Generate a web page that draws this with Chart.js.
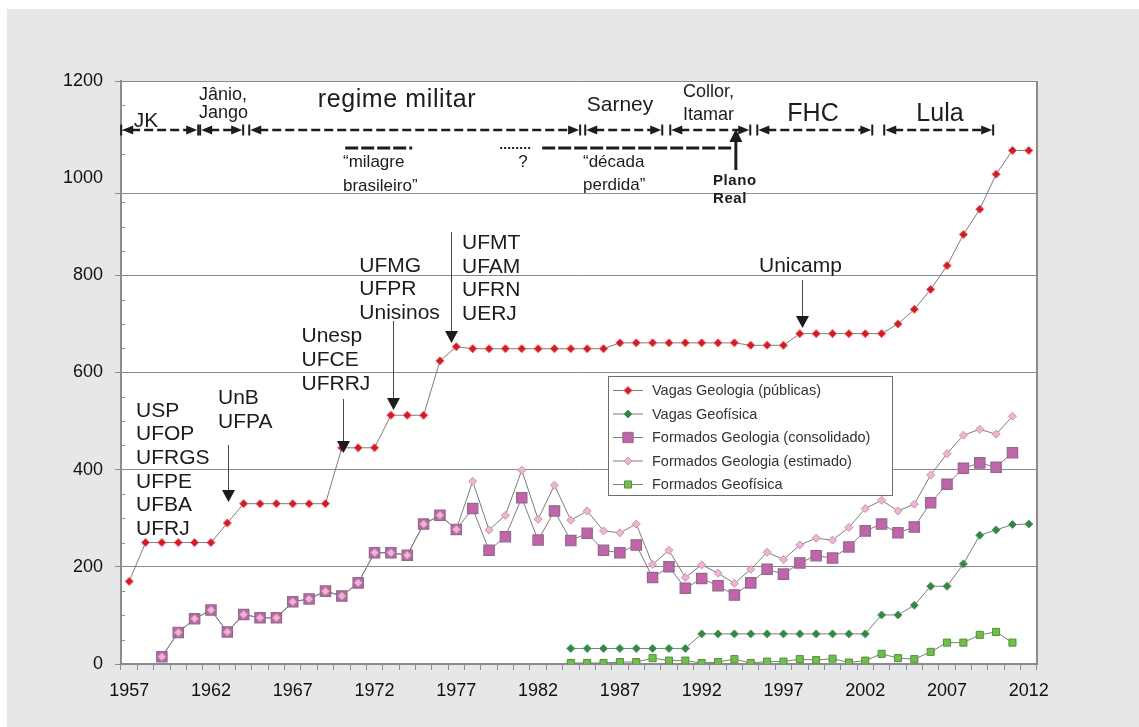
<!DOCTYPE html>
<html lang="pt-BR">
<head>
<meta charset="utf-8">
<title>Vagas e formados em Geologia e Geofísica</title>
<script src="https://cdn.jsdelivr.net/npm/chart.js@4.4.1/dist/chart.umd.min.js"></script>
<style>
  html, body { margin: 0; padding: 0; background: #fff; }
  #wrap { position: relative; width: 1139px; height: 727px; }
</style>
</head>
<body>
<div id="wrap"><canvas id="chart"></canvas></div>
<script>
const years = ['1957','1958','1959','1960','1961','1962','1963','1964','1965','1966',
    '1967','1968','1969','1970','1971','1972','1973','1974','1975','1976',
    '1977','1978','1979','1980','1981','1982','1983','1984','1985','1986',
    '1987','1988','1989','1990','1991','1992','1993','1994','1995','1996',
    '1997','1998','1999','2000','2001','2002','2003','2004','2005','2006',
    '2007','2008','2009','2010','2011','2012'];
const xTickLabels = ['1957','1962','1967','1972','1977','1982','1987','1992','1997','2002','2007','2012'];
const yTickLabels = [0, 200, 400, 600, 800, 1000, 1200];

const vagasGeologia = [170,250,250,250,250,250,290,330,330,330,330,330,330,445,445,445,512,512,512,624,
    653,649,649,649,649,649,649,649,649,649,661,661,661,661,661,661,661,661,656,656,
    656,680,680,680,680,680,680,700,730,771,820,884,936,1008,1057,1057];
const vagasGeofisica = [null,null,null,null,null,null,null,null,null,null,
    null,null,null,null,null,null,null,null,null,null,
    null,null,null,null,null,null,null,32,32,32,32,32,32,32,32,62,62,62,62,62,
    62,62,62,62,62,62,101,101,121,160,160,206,265,276,287,288];
const formadosConsolidado = [null,null,15,65,93,111,66,102,95,95,128,134,150,140,167,229,229,224,288,306,
    277,320,234,262,342,255,315,254,269,234,229,245,178,200,156,176,161,142,167,195,
    185,208,223,218,241,274,288,270,282,332,370,403,414,405,435,null];
const formadosEstimado = [null,null,15,65,93,111,66,102,95,95,128,134,150,140,167,229,229,224,288,306,
    277,376,276,306,399,298,368,296,315,274,270,288,205,234,178,204,187,166,195,230,
    215,245,259,255,281,320,337,315,329,389,433,471,483,473,510,null];
const formadosGeofisica = [null,null,null,null,null,null,null,null,null,null,
    null,null,null,null,null,null,null,null,null,null,
    null,null,null,null,null,null,null,2,2,2,4,4,12,7,7,2,4,10,2,5,
    5,10,8,11,3,7,21,12,10,25,44,44,60,66,44,null];

// governos (anos de inicio/fim das setas)
const periods = [
    ['JK', 1956.51, 1961.22],
    ['Jânio/Jango', 1961.34, 1963.97],
    ['regime militar', 1964.34, 1984.57],
    ['Sarney', 1984.88, 1989.59],
    ['Collor/Itamar', 1990.08, 1994.97],
    ['FHC', 1995.40, 2002.43],
    ['Lula', 2003.16, 2009.82]
];
const phases = [
    ['milagre', 1970.21, 1974.30, 'dash'],
    ['?', 1979.68, 1981.64, 'dot'],
    ['decada', 1982.25, 1993.93, 'dash']
];
const planoReal = 1994.09;
// novas universidades: ano apontado pela seta
const newCourses = [
    ['UnB', 1963.07, 445, 502],
    ['Unesp', 1970.06, 399, 453],
    ['UFMG', 1973.10, 321, 410],
    ['UFMT', 1976.67, 232, 343],
    ['Unicamp', 1998.13, 280, 328]
];

const F = 'Arial, "Liberation Sans", Helvetica, sans-serif';
const ink = '#1c1c1c';
const axisGrey = '#8c8c8c';
const lineGrey = '#7d7d7d';

const label = (ctx, str, x, y, size, opt = {}) => {
    ctx.font = `${opt.bold ? 'bold ' : ''}${size}px ${F}`;
    ctx.textAlign = opt.align || 'left';
    ctx.textBaseline = 'alphabetic';
    ctx.letterSpacing = (opt.spacing || 0) + 'px';
    ctx.fillStyle = opt.color || ink;
    ctx.fillText(str, x, y);
    ctx.letterSpacing = '0px';
};

const downHead = (ctx, x, tip, w, h) => {
    ctx.beginPath();
    ctx.moveTo(x, tip);
    ctx.lineTo(x - w / 2, tip - h);
    ctx.lineTo(x + w / 2, tip - h);
    ctx.closePath();
    ctx.fill();
};

const periodArrow = (ctx, x1, x2, y) => {
    ctx.strokeStyle = ink;
    ctx.fillStyle = ink;
    ctx.lineWidth = 2.4;
    ctx.setLineDash([9, 4]);
    ctx.beginPath();
    ctx.moveTo(x1 + 10, y);
    ctx.lineTo(x2 - 10, y);
    ctx.stroke();
    ctx.setLineDash([]);
    ctx.lineWidth = 2;
    [x1, x2].forEach(x => {
        ctx.beginPath();
        ctx.moveTo(x, y - 5.5);
        ctx.lineTo(x, y + 5.5);
        ctx.stroke();
    });
    [[x1 + 1, 1], [x2 - 1, -1]].forEach(([tx, dir]) => {
        ctx.beginPath();
        ctx.moveTo(tx, y);
        ctx.lineTo(tx + dir * 11, y - 4.5);
        ctx.lineTo(tx + dir * 11, y + 4.5);
        ctx.closePath();
        ctx.fill();
    });
};

const backdrop = {
    id: 'backdrop',
    beforeDraw(chart) {
        const { ctx, chartArea: a } = chart;
        ctx.save();
        ctx.fillStyle = '#fff';
        ctx.fillRect(0, 0, chart.width, chart.height);
        ctx.fillStyle = '#e6e7e9';
        ctx.fillRect(7, 9, chart.width - 7, chart.height - 9);
        ctx.fillStyle = '#fff';
        ctx.fillRect(a.left, a.top, a.right - a.left, a.bottom - a.top);
        ctx.restore();
    },
    beforeDatasetsDraw(chart) {
        const { ctx, chartArea: a } = chart;
        const y = chart.scales.y;
        ctx.save();
        ctx.strokeStyle = axisGrey;
        ctx.lineWidth = 1;
        // minor ticks
        for (let v = 50; v < 1200; v += 50) {
            if (v % 200 === 0) continue;
            const py = Math.round(y.getPixelForValue(v)) + 0.5;
            ctx.beginPath();
            ctx.moveTo(a.left, py);
            ctx.lineTo(a.left + 4, py);
            ctx.stroke();
        }
        // base of the annotation panel
        const py = Math.round(y.getPixelForValue(970)) + 0.5;
        ctx.beginPath();
        ctx.moveTo(a.left - 6, py);
        ctx.lineTo(a.right, py);
        ctx.stroke();
        // right border
        ctx.lineWidth = 2;
        ctx.beginPath();
        ctx.moveTo(a.right, a.top);
        ctx.lineTo(a.right, a.bottom);
        ctx.stroke();
        ctx.restore();
    },
    afterDatasetsDraw(chart) {
        const { ctx } = chart;
        const xs = chart.scales.x;
        const xAt = yr => xs.getPixelForValue(yr - 1957);
        ctx.save();

        // period arrows
        periods.forEach(([, from, to]) => periodArrow(ctx, xAt(from), xAt(to), 130));
        label(ctx, 'JK', 146, 127, 21, { align: 'center' });
        label(ctx, 'Jânio,', 199, 99.5, 18);
        label(ctx, 'Jango', 199, 117.5, 18);
        label(ctx, 'regime militar', 397, 107, 25, { align: 'center', spacing: 0.6 });
        label(ctx, 'Sarney', 620, 111, 21, { align: 'center' });
        label(ctx, 'Collor,', 683, 97, 18);
        label(ctx, 'Itamar', 683, 120, 18);
        label(ctx, 'FHC', 813, 120.5, 25, { align: 'center' });
        label(ctx, 'Lula', 940, 121, 25, { align: 'center' });

        // economic phases
        phases.forEach(([, from, to, kind]) => {
            ctx.strokeStyle = ink;
            if (kind === 'dot') {
                ctx.lineWidth = 2;
                ctx.setLineDash([2, 2]);
            } else {
                ctx.lineWidth = 2.8;
                ctx.setLineDash([13, 3]);
            }
            ctx.beginPath();
            ctx.moveTo(xAt(from), 148);
            ctx.lineTo(xAt(to), 148);
            ctx.stroke();
        });
        ctx.setLineDash([]);
        label(ctx, '\u201cmilagre', 343, 167, 17);
        label(ctx, 'brasileiro\u201d', 343, 191, 17);
        label(ctx, '?', 523, 167, 17, { align: 'center' });
        label(ctx, '\u201cdécada', 583, 167, 17);
        label(ctx, 'perdida\u201d', 583, 190, 17);

        // Plano Real
        const pr = xAt(planoReal);
        ctx.strokeStyle = ink;
        ctx.fillStyle = ink;
        ctx.lineWidth = 3;
        ctx.beginPath();
        ctx.moveTo(pr, 170);
        ctx.lineTo(pr, 140);
        ctx.stroke();
        ctx.beginPath();
        ctx.moveTo(pr, 129);
        ctx.lineTo(pr - 6.5, 142);
        ctx.lineTo(pr + 6.5, 142);
        ctx.closePath();
        ctx.fill();
        label(ctx, 'Plano', 713, 185, 15, { bold: true, spacing: 0.6 });
        label(ctx, 'Real', 713, 203, 15, { bold: true, spacing: 0.6 });

        // new courses
        const blocks = [
            [['USP', 'UFOP', 'UFRGS', 'UFPE', 'UFBA', 'UFRJ'], 136, 416.7, 23.6],
            [['UnB', 'UFPA'], 218, 404.3, 24],
            [['Unesp', 'UFCE', 'UFRRJ'], 301.5, 342, 24],
            [['UFMG', 'UFPR', 'Unisinos'], 359.3, 271.7, 23.7],
            [['UFMT', 'UFAM', 'UFRN', 'UERJ'], 462, 249, 23.5],
            [['Unicamp'], 759, 271.7, 24]
        ];
        blocks.forEach(([lines, x, y0, lh]) => {
            lines.forEach((t, i) => label(ctx, t, x, y0 + i * lh, 21));
        });
        newCourses.forEach(([, yr, top, tip]) => {
            const x = Math.round(xAt(yr)) + 0.5;
            ctx.strokeStyle = '#4a4a4a';
            ctx.lineWidth = 1;
            ctx.beginPath();
            ctx.moveTo(x, top);
            ctx.lineTo(x, tip - 10);
            ctx.stroke();
            ctx.fillStyle = ink;
            downHead(ctx, x, tip, 13, 12);
        });

        // legend
        const L = { left: 608, top: 376, right: 892, bottom: 495 };
        ctx.fillStyle = '#fff';
        ctx.fillRect(L.left, L.top, L.right - L.left, L.bottom - L.top);
        ctx.strokeStyle = '#6e6e6e';
        ctx.lineWidth = 1;
        ctx.strokeRect(L.left + 0.5, L.top + 0.5, L.right - L.left, L.bottom - L.top);
        const legendOrder = [0, 1, 2, 3, 4];
        legendOrder.forEach((di, row) => {
            const ds = chart.data.datasets[di];
            const cy = 390 + row * 23.5;
            ctx.strokeStyle = lineGrey;
            ctx.lineWidth = 1;
            ctx.beginPath();
            ctx.moveTo(613, cy + 0.5);
            ctx.lineTo(643, cy + 0.5);
            ctx.stroke();
            ctx.fillStyle = ds.pointBackgroundColor;
            ctx.strokeStyle = ds.pointBorderColor;
            Chart.helpers.drawPoint(ctx, {
                pointStyle: ds.pointStyle,
                radius: ds.pointRadius,
                rotation: 0,
                borderWidth: ds.pointBorderWidth
            }, 628, cy + 0.5);
            ctx.font = `14.5px ${F}`;
            ctx.textAlign = 'left';
            ctx.textBaseline = 'middle';
            ctx.fillStyle = '#333';
            ctx.fillText(ds.label, 652, cy + 1);
        });

        ctx.restore();
    }
};

const ctx = document.getElementById('chart').getContext('2d');
const chart = new Chart(ctx, {
    type: 'line',
    data: {
        labels: years,
        datasets: [
            {
                label: 'Vagas Geologia (públicas)',
                data: vagasGeologia,
                order: 1,
                borderColor: lineGrey,
                borderWidth: 1,
                pointStyle: 'rectRot',
                pointRadius: 4,
                pointBackgroundColor: '#e5141c',
                pointBorderColor: '#f05a5f',
                pointBorderWidth: 1
            },
            {
                label: 'Vagas Geofísica',
                data: vagasGeofisica,
                order: 2,
                borderColor: lineGrey,
                borderWidth: 1,
                pointStyle: 'rectRot',
                pointRadius: 4,
                pointBackgroundColor: '#2f8a3e',
                pointBorderColor: '#4ca25b',
                pointBorderWidth: 1
            },
            {
                label: 'Formados Geologia (consolidado)',
                data: formadosConsolidado,
                order: 4,
                borderColor: lineGrey,
                borderWidth: 1,
                pointStyle: 'rect',
                pointRadius: 7.3,
                pointBackgroundColor: '#c462ac',
                pointBorderColor: '#8e6b8b',
                pointBorderWidth: 1.2
            },
            {
                label: 'Formados Geologia (estimado)',
                data: formadosEstimado,
                order: 3,
                borderColor: lineGrey,
                borderWidth: 1,
                pointStyle: 'rectRot',
                pointRadius: 4,
                pointBackgroundColor: '#f4b2d3',
                pointBorderColor: '#c993b4',
                pointBorderWidth: 1
            },
            {
                label: 'Formados Geofísica',
                data: formadosGeofisica,
                order: 5,
                borderColor: lineGrey,
                borderWidth: 1,
                pointStyle: 'rect',
                pointRadius: 5,
                pointBackgroundColor: '#6ec047',
                pointBorderColor: '#4e9436',
                pointBorderWidth: 1
            }
        ]
    },
    options: {
        responsive: true,
        maintainAspectRatio: false,
        animation: false,
        events: [],
        layout: { padding: { left: 0, top: 81, right: 102, bottom: 0 } },
        elements: { line: { tension: 0 } },
        plugins: {
            legend: { display: false },
            tooltip: { enabled: false }
        },
        scales: {
            x: {
                type: 'category',
                offset: true,
                afterFit: s => { s.height = 63; },
                border: { color: axisGrey, width: 2 },
                grid: {
                    offset: true,
                    drawOnChartArea: false,
                    tickLength: 6,
                    color: axisGrey,
                    lineWidth: 1
                },
                ticks: {
                    autoSkip: false,
                    maxRotation: 0,
                    padding: 10,
                    color: '#111',
                    font: { family: F, size: 18 },
                    callback: (v, i) => xTickLabels.includes(years[i]) ? years[i] : ''
                }
            },
            y: {
                min: 0,
                max: 1200,
                afterFit: s => { s.width = 121; },
                border: { color: axisGrey, width: 2 },
                grid: {
                    tickLength: 6,
                    lineWidth: 1,
                    color: c => [200, 400, 600, 800, 1200].includes(c.tick.value) ? '#8a8a8a' : 'transparent',
                    tickColor: c => c.tick.value === 1000 ? 'transparent' : axisGrey
                },
                ticks: {
                    stepSize: 200,
                    autoSkip: false,
                    padding: 12,
                    color: '#111',
                    font: { family: F, size: 18 },
                    callback: v => yTickLabels.includes(v) ? String(v) : ''
                }
            }
        }
    },
    plugins: [backdrop]
});
</script>
</body>
</html>
